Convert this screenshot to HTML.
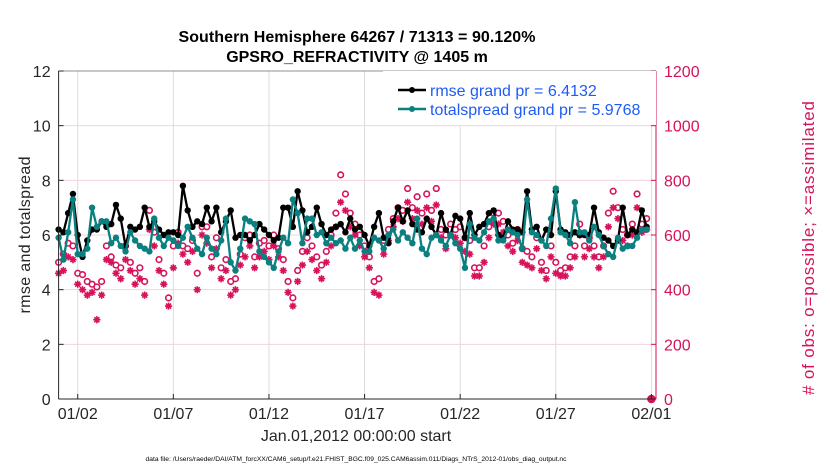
<!DOCTYPE html>
<html><head><meta charset="utf-8">
<style>
body{margin:0;background:#fff;}
svg{display:block;font-family:"Liberation Sans",sans-serif;}
</style></head>
<body>
<svg id="chart" width="830" height="470">
<rect width="830" height="470" fill="#fff"/>
<text x="357" y="42" text-anchor="middle" font-size="16" font-weight="bold" fill="#000" textLength="357">Southern Hemisphere 64267 / 71313 = 90.120%</text>
<text x="357" y="62" text-anchor="middle" font-size="16" font-weight="bold" fill="#000">GPSRO_REFRACTIVITY @ 1405 m</text>
<g id="grid"></g>
<g id="marks"></g>
<g id="axes"></g>
<text transform="translate(30,235) rotate(-90)" text-anchor="middle" font-size="16" fill="#262626" textLength="157">rmse and totalspread</text>
<text transform="translate(814,248) rotate(-90)" text-anchor="middle" font-size="17" fill="#d6125a" textLength="294"># of obs: o=possible; ×=assimilated</text>
<text x="356" y="441" text-anchor="middle" font-size="16" fill="#262626">Jan.01,2012 00:00:00 start</text>
<text x="356" y="461" text-anchor="middle" font-size="6.7" fill="#000" textLength="421">data file: /Users/raeder/DAI/ATM_forcXX/CAM6_setup/f.e21.FHIST_BGC.f09_025.CAM6assim.011/Diags_NTrS_2012-01/obs_diag_output.nc</text>
<g>
<rect x="383" y="71" width="273" height="54" fill="#fff" stroke="none"/>
<line x1="398" y1="90" x2="426" y2="90" stroke="#000" stroke-width="2.5"/>
<circle cx="412" cy="90" r="3" fill="#000"/>
<text x="430" y="96" font-size="16" fill="#1f5cf5">rmse grand pr = 6.4132</text>
<line x1="398" y1="109" x2="426" y2="109" stroke="#0a8080" stroke-width="2.5"/>
<circle cx="412" cy="109" r="3" fill="#0a8080"/>
<text x="430" y="115" font-size="16" fill="#1f5cf5">totalspread grand pr = 5.9768</text>
</g>
</svg>
<script>
const rmse=[6.2,6.1,6.8,7.5,6.0,5.2,5.8,6.2, 6.2,6.5,6.3,6.4,7.1,6.6,5.6,6.3, 6.2,6.3,7.0,6.3,6.5,6.2,6.0,6.1, 6.1,6.0,7.8,6.9,6.3,6.5,6.4,7.0, 6.5,7.0,6.1,6.5,6.9,5.9,6.0,6.0, 5.8,6.0,6.4,6.2,6.0,5.8,5.9,7.0, 7.0,6.3,7.6,6.9,6.1,6.3,7.0,6.4, 6.0,6.2,6.3,6.4,6.1,6.6,6.2,6.3, 6.0,5.6,6.3,6.8,5.9,5.7,6.5,7.0, 6.5,6.9,6.4,6.2,6.1,6.6,6.3,6.0, 6.8,6.2,6.0,6.7,6.6,5.9,6.8,6.0, 6.3,6.4,6.8,6.9,6.0,5.9,6.5,6.2, 6.2,6.1,7.6,6.2,6.3,5.8,6.2,6.0, 7.6,6.2,6.1,6.0,6.1,6.0,6.0,6.0, 7.0,6.1,5.9,5.8,5.6,5.8,7.0,6.0, 6.2,6.1,6.9,6.3,null];
const spread=[5.9,5.1,6.1,7.3,5.3,5.3,5.5,7.0, 6.3,6.5,6.5,5.7,5.9,5.6,5.4,6.1, 5.8,5.6,5.5,5.4,6.6,5.9,5.6,5.9, 5.8,5.6,5.9,6.3,5.9,5.5,5.3,5.9, 5.5,5.3,5.8,6.6,5.0,4.7,5.5,6.6, 6.5,6.4,5.4,5.2,5.0,4.8,5.4,5.9, 5.7,7.3,6.8,5.7,6.6,6.6,6.0,6.1, 5.7,5.9,5.7,5.8,5.5,5.9,5.5,5.8, 5.4,5.4,5.9,5.8,5.5,6.0,6.2,5.8, 6.1,5.9,5.7,6.6,5.5,5.3,5.9,6.0, 5.8,5.6,6.0,5.7,5.5,4.8,6.4,5.9, 5.8,6.1,6.5,6.6,5.8,5.8,6.2,6.1, 6.0,5.5,7.3,6.1,6.0,5.8,5.6,6.6, 7.7,6.1,6.0,5.7,7.2,6.1,6.1,5.8, 6.3,6.0,5.6,5.3,5.2,5.9,5.5,5.6, 5.6,5.9,6.2,6.2,null];
const possible=[500,530,570,560,460,455,430,420,410,430,560,520,490,480,560,500,460,480,430,690,610,510,460,370,560,610,560,550,580,460,630,630,520,590,480,510,430,440,530,590,600,520,570,580,560,600,550,510,430,370,470,540,590,560,520,490,540,600,680,820,750,680,640,600,560,520,430,440,580,620,660,700,690,770,700,740,680,750,690,770,620,600,640,620,630,590,580,480,480,560,630,680,680,650,600,570,620,550,540,520,590,500,470,560,500,470,480,520,560,640,560,590,560,520,560,680,760,700,620,600,640,750,640,660,0];
const assimilated=[460,470,520,510,420,400,380,390,290,380,510,500,460,440,510,470,420,440,380,620,560,470,420,340,480,570,530,500,540,400,600,570,480,550,440,470,380,400,490,520,560,480,520,540,510,560,520,470,390,340,430,490,540,510,470,440,500,560,630,720,690,630,600,560,520,480,390,380,530,580,630,660,650,720,660,690,640,700,650,710,590,550,600,590,570,540,530,450,450,500,590,640,640,610,560,540,580,500,490,480,550,470,440,520,460,450,450,480,520,600,520,550,520,480,520,630,700,660,580,560,600,700,610,620,0];
const leftTicks=[0,2,4,6,8,10,12];
const rightTicks=[0,200,400,600,800,1000,1200];
const xTickDays=[1,6,11,16,21,26,31];
const xTickLabels=["01/02","01/07","01/12","01/17","01/22","01/27","02/01"];
const stepDays=0.25;

const NS="http://www.w3.org/2000/svg";
const X0=58.6,X1=656,Y0=399,Y1=71,DMAX=31.24;
function xs(d){return X0+(X1-X0)*d/DMAX;}
function yl(v){return Y0-(Y0-Y1)*v/12;}
function yr(v){return Y0-(Y0-Y1)*v/1200;}
function mk(tag,attrs,parent){const e=document.createElementNS(NS,tag);for(const k in attrs)e.setAttribute(k,attrs[k]);parent.appendChild(e);return e;}
const grid=document.getElementById('grid'),marks=document.getElementById('marks'),axes=document.getElementById('axes');

xTickDays.forEach((d,i)=>{
  const g=mk('line',{x1:xs(d),x2:xs(d),y1:Y1,y2:Y0,stroke:'#dcdcdc','stroke-width':1},grid);
  
  
  const t=mk('line',{x1:xs(d),x2:xs(d),y1:Y0,y2:Y0-5,stroke:'#262626','stroke-width':1},axes);
  
  
  const l=mk('text',{x:xs(d),y:Y0+20,'text-anchor':'middle','font-size':16,fill:'#262626'},axes);
  l.textContent=xTickLabels[i];
  
  
});
leftTicks.forEach(v=>{
  if(v>0&&v<12){const g=mk('line',{x1:X0,x2:X1,y1:yl(v),y2:yl(v),stroke:'#f2d3de','stroke-width':1},grid);
  
  }
  const t=mk('line',{x1:X0,x2:X0+5,y1:yl(v),y2:yl(v),stroke:'#262626'},axes);
  
  
  const l=mk('text',{x:X0-8,y:yl(v)+6,'text-anchor':'end','font-size':16,fill:'#262626'},axes);
  l.textContent=v;
  
  
});
rightTicks.forEach(v=>{
  const t=mk('line',{x1:X1,x2:X1-5,y1:yr(v),y2:yr(v),stroke:'#d6125a'},axes);
  
  
  const l=mk('text',{x:X1+8,y:yr(v)+6,'font-size':16,fill:'#d6125a'},axes);
  l.textContent=v;
  
  
});
const ax1=mk('line',{x1:X0,x2:X0,y1:Y1,y2:Y0,stroke:'#262626','stroke-width':1},axes);


const ax2=mk('line',{x1:X0,x2:X1,y1:Y0,y2:Y0,stroke:'#262626','stroke-width':1},axes);


const ax3=mk('line',{x1:X1,x2:X1,y1:Y1,y2:Y0,stroke:'#d6125a','stroke-width':1},axes);


const ax4=mk('line',{x1:X0,x2:X1,y1:Y1,y2:Y1,stroke:'#262626','stroke-width':0.6},axes);



possible.forEach((v,i)=>{
  const x=xs(i*stepDays),y=yr(v);
  const c=mk('circle',{cx:x,cy:y,r:v===0?3.5:2.8,fill:v===0?'#d6125a':'#fff',stroke:'#d6125a','stroke-width':1.6},marks);
  
  
});
assimilated.forEach((v,i)=>{
  const x=xs(i*stepDays),y=yr(v),r=3.6;
  const d=`M${x-r},${y}H${x+r}M${x},${y-r}V${y+r}M${x-r*0.7},${y-r*0.7}L${x+r*0.7},${y+r*0.7}M${x-r*0.7},${y+r*0.7}L${x+r*0.7},${y-r*0.7}`;
  const p=mk('path',{d:d,stroke:'#d6125a','stroke-width':1.6,fill:'none'},marks);
  
  
});
function series(arr,color,name){
  let d='';arr.forEach((v,i)=>{if(v===null)return;d+=(d?'L':'M')+xs(i*stepDays).toFixed(1)+','+yl(v).toFixed(1);});
  const p=mk('path',{d:d,stroke:color,'stroke-width':2.3,fill:'none','stroke-linejoin':'round'},marks);
  
  
  arr.forEach((v,i)=>{if(v===null)return;
    const c=mk('circle',{cx:xs(i*stepDays),cy:yl(v),r:3.2,fill:color},marks);
    
    
  });
}
series(rmse,'#000','rmse');
series(spread,'#0a8080','totalspread');
</script>
</body></html>
